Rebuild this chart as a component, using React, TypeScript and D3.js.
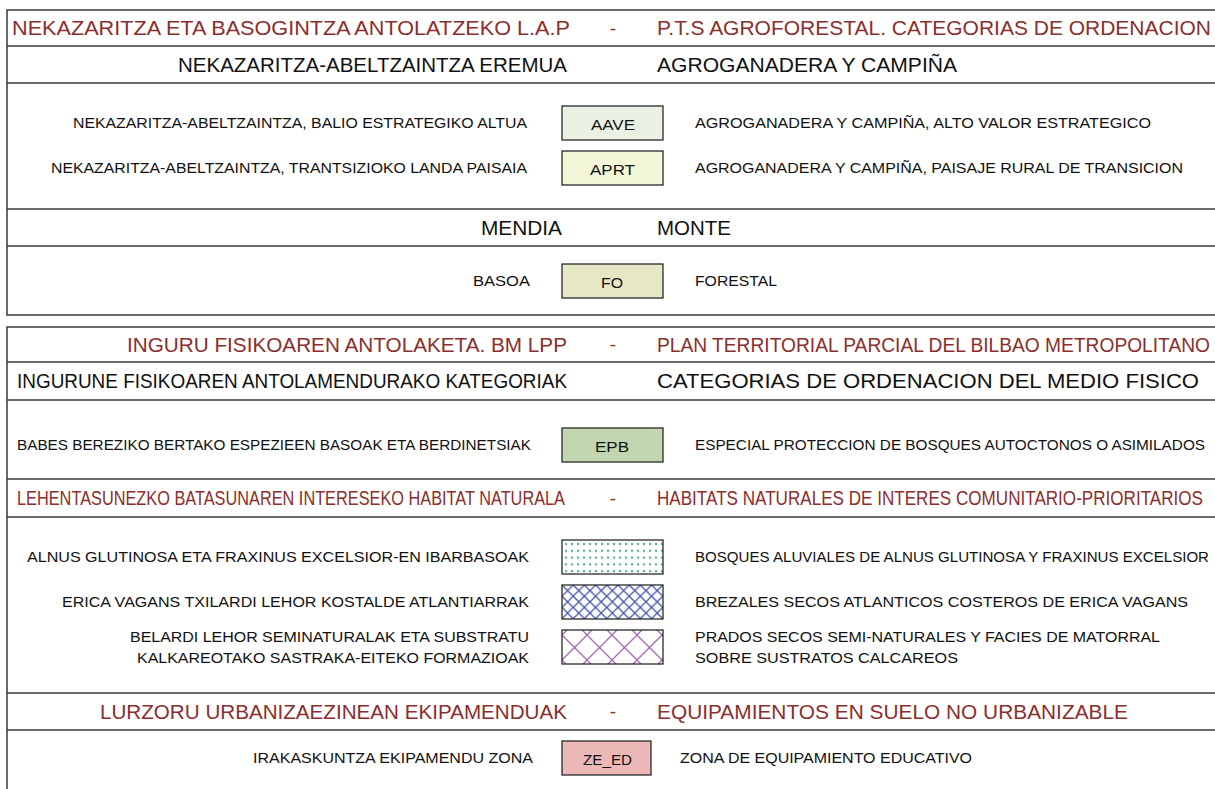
import React from "react";
import * as d3 from "d3";

// legend texts
const titles = [
  ["NEKAZARITZA ETA BASOGINTZA ANTOLATZEKO L.A.P", "P.T.S AGROFORESTAL. CATEGORIAS DE ORDENACION"],
  ["INGURU FISIKOAREN ANTOLAKETA. BM LPP", "PLAN TERRITORIAL PARCIAL DEL BILBAO METROPOLITANO"],
  ["LEHENTASUNEZKO BATASUNAREN INTERESEKO HABITAT NATURALA", "HABITATS NATURALES DE INTERES COMUNITARIO-PRIORITARIOS"],
  ["LURZORU URBANIZAEZINEAN EKIPAMENDUAK", "EQUIPAMIENTOS EN SUELO NO URBANIZABLE"],
];

const subtitles = [
  ["NEKAZARITZA-ABELTZAINTZA EREMUA", "AGROGANADERA Y CAMPIÑA"],
  ["MENDIA", "MONTE"],
  ["INGURUNE FISIKOAREN ANTOLAMENDURAKO KATEGORIAK", "CATEGORIAS DE ORDENACION DEL MEDIO FISICO"],
];

const codes = ["AAVE", "APRT", "FO", "EPB", "ALNUS", "ERICA", "BELARDI", "ZE_ED"];
const codeLabels = ["AAVE", "APRT", "FO", "EPB", "", "", "", "ZE_ED"];

const basqueLabels = [
  ["NEKAZARITZA-ABELTZAINTZA, BALIO ESTRATEGIKO ALTUA"],
  ["NEKAZARITZA-ABELTZAINTZA, TRANTSIZIOKO LANDA PAISAIA"],
  ["BASOA"],
  ["BABES BEREZIKO BERTAKO ESPEZIEEN BASOAK ETA BERDINETSIAK"],
  ["ALNUS GLUTINOSA ETA FRAXINUS EXCELSIOR-EN IBARBASOAK"],
  ["ERICA VAGANS TXILARDI LEHOR KOSTALDE ATLANTIARRAK"],
  ["BELARDI LEHOR SEMINATURALAK ETA SUBSTRATU", "KALKAREOTAKO SASTRAKA-EITEKO FORMAZIOAK"],
  ["IRAKASKUNTZA EKIPAMENDU ZONA"],
];

const spanishLabels = [
  ["AGROGANADERA Y CAMPIÑA, ALTO VALOR ESTRATEGICO"],
  ["AGROGANADERA Y CAMPIÑA, PAISAJE RURAL DE TRANSICION"],
  ["FORESTAL"],
  ["ESPECIAL PROTECCION DE BOSQUES AUTOCTONOS O ASIMILADOS"],
  ["BOSQUES ALUVIALES DE ALNUS GLUTINOSA Y FRAXINUS EXCELSIOR"],
  ["BREZALES SECOS ATLANTICOS COSTEROS DE ERICA VAGANS"],
  ["PRADOS SECOS SEMI-NATURALES Y FACIES DE MATORRAL", "SOBRE SUSTRATOS CALCAREOS"],
  ["ZONA DE EQUIPAMIENTO EDUCATIVO"],
];

const swatchFill = d3
  .scaleOrdinal<string, string>()
  .domain(codes)
  .range(["#e9f1e4", "#f3f6d9", "#e6e7c5", "#c3d6b2", "url(#dots)", "url(#blueHatch)", "url(#purpleHatch)", "#ecb8b8"]);

// ---- layout (pixel extents of each text line in the frame) ----
const FONT = "'Liberation Sans', Arial, Helvetica, sans-serif";
const RED = "#8b2e2e";
const LINE = "#3a3a3a";
const W = 1215;
const H = 789;
const LEFT = 7;

const span: Record<string, [number, number]> = {
  "NEKAZARITZA ETA BASOGINTZA ANTOLATZEKO L.A.P": [12, 570],
  "P.T.S AGROFORESTAL. CATEGORIAS DE ORDENACION": [657, 1211],
  "INGURU FISIKOAREN ANTOLAKETA. BM LPP": [127, 567],
  "PLAN TERRITORIAL PARCIAL DEL BILBAO METROPOLITANO": [657, 1210],
  "LEHENTASUNEZKO BATASUNAREN INTERESEKO HABITAT NATURALA": [17, 565],
  "HABITATS NATURALES DE INTERES COMUNITARIO-PRIORITARIOS": [657, 1203],
  "LURZORU URBANIZAEZINEAN EKIPAMENDUAK": [100, 567],
  "EQUIPAMIENTOS EN SUELO NO URBANIZABLE": [657, 1128],
  "NEKAZARITZA-ABELTZAINTZA EREMUA": [178, 567],
  "AGROGANADERA Y CAMPIÑA": [657, 957],
  MENDIA: [481, 562],
  MONTE: [657, 731],
  "INGURUNE FISIKOAREN ANTOLAMENDURAKO KATEGORIAK": [17, 567],
  "CATEGORIAS DE ORDENACION DEL MEDIO FISICO": [657, 1199],
  "NEKAZARITZA-ABELTZAINTZA, BALIO ESTRATEGIKO ALTUA": [73, 527],
  "NEKAZARITZA-ABELTZAINTZA, TRANTSIZIOKO LANDA PAISAIA": [51, 527],
  BASOA: [473, 530],
  "BABES BEREZIKO BERTAKO ESPEZIEEN BASOAK ETA BERDINETSIAK": [17, 531],
  "ALNUS GLUTINOSA ETA FRAXINUS EXCELSIOR-EN IBARBASOAK": [27, 529],
  "ERICA VAGANS TXILARDI LEHOR KOSTALDE ATLANTIARRAK": [62, 529],
  "BELARDI LEHOR SEMINATURALAK ETA SUBSTRATU": [130, 529],
  "KALKAREOTAKO SASTRAKA-EITEKO FORMAZIOAK": [137, 529],
  "IRAKASKUNTZA EKIPAMENDU ZONA": [253, 533],
  "AGROGANADERA Y CAMPIÑA, ALTO VALOR ESTRATEGICO": [695, 1151],
  "AGROGANADERA Y CAMPIÑA, PAISAJE RURAL DE TRANSICION": [695, 1183],
  FORESTAL: [695, 777],
  "ESPECIAL PROTECCION DE BOSQUES AUTOCTONOS O ASIMILADOS": [695, 1205],
  "BOSQUES ALUVIALES DE ALNUS GLUTINOSA Y FRAXINUS EXCELSIOR": [695, 1209],
  "BREZALES SECOS ATLANTICOS COSTEROS DE ERICA VAGANS": [695, 1188],
  "PRADOS SECOS SEMI-NATURALES Y FACIES DE MATORRAL": [695, 1160],
  "SOBRE SUSTRATOS CALCAREOS": [695, 958],
  "ZONA DE EQUIPAMIENTO EDUCATIVO": [680, 972],
  AAVE: [591, 635],
  APRT: [590, 635],
  FO: [601, 623],
  EPB: [595, 629],
  ZE_ED: [583, 632],
};

function Fit({ t, y, size, fill = "#111" }: { t: string; y: number; size: number; fill?: string }) {
  const [x0, x1] = span[t];
  return (
    <text x={x0} y={y} dy="0.36em" fontSize={size} fill={fill} textLength={x1 - x0} lengthAdjust="spacingAndGlyphs">
      {t}
    </text>
  );
}

type Block =
  | { kind: "title"; i: number; y0: number; y1: number }
  | { kind: "sub"; i: number; y0: number; y1: number }
  | { kind: "items"; ids: string[]; y0: number; y1: number; top: number; narrow?: boolean };

// row blocks of the two framed tables
const blocks: Block[] = [
  { kind: "title", i: 0, y0: 10, y1: 46 },
  { kind: "sub", i: 0, y0: 46, y1: 83 },
  { kind: "items", ids: ["AAVE", "APRT"], y0: 83, y1: 209, top: 106 },
  { kind: "sub", i: 1, y0: 209, y1: 246 },
  { kind: "items", ids: ["FO"], y0: 246, y1: 315, top: 264 },
  { kind: "title", i: 1, y0: 327, y1: 362 },
  { kind: "sub", i: 2, y0: 362, y1: 400 },
  { kind: "items", ids: ["EPB"], y0: 400, y1: 479, top: 428 },
  { kind: "title", i: 2, y0: 479, y1: 517 },
  { kind: "items", ids: ["ALNUS", "ERICA", "BELARDI"], y0: 517, y1: 693, top: 540 },
  { kind: "title", i: 3, y0: 693, y1: 730 },
  { kind: "items", ids: ["ZE_ED"], y0: 730, y1: 800, top: 741, narrow: true },
];

const boxes = [
  [10, 315],
  [327, 820],
];

function Items({ b }: { b: Extract<Block, { kind: "items" }> }) {
  const swH = 34;
  const step = 45;
  const y = d3
    .scaleLinear()
    .domain([0, 1])
    .range([b.top, b.top + step]);
  const swX = 562;
  const swW = b.narrow ? 89 : 101;
  return (
    <g>
      {b.ids.map((id, k) => {
        const idx = codes.indexOf(id);
        const cy = y(k) + swH / 2;
        const eu = basqueLabels[idx];
        const es = spanishLabels[idx];
        const lh = 21;
        const off = ((eu.length - 1) * lh) / 2;
        return (
          <g key={id}>
            <rect x={swX} y={y(k)} width={swW} height={swH} fill={swatchFill(id)} stroke="#2a2a2a" strokeWidth={1.3} />
            {codeLabels[idx] && <Fit t={codeLabels[idx]} y={cy + 2} size={14} />}
            {eu.map((t, j) => (
              <Fit key={"eu" + j} t={t} y={cy - off + j * lh} size={14.5} />
            ))}
            {es.map((t, j) => (
              <Fit key={"es" + j} t={t} y={cy - off + j * lh} size={14.5} />
            ))}
          </g>
        );
      })}
    </g>
  );
}

export default function App() {
  return (
    <svg
      width={W}
      height={H}
      style={{ position: "absolute", left: 0, top: 0, background: "#fff" }}
      fontFamily={FONT}
    >
      <defs>
        <pattern id="dots" width={6} height={6.8} patternUnits="userSpaceOnUse" x={564} y={542}>
          <rect x={1} y={1} width={2} height={2} fill="#48b286" />
        </pattern>
        <pattern id="blueHatch" width={11.2} height={11.2} patternUnits="userSpaceOnUse" x={562} y={585}>
          <path d="M-1,-1 L12.2,12.2 M-1,12.2 L12.2,-1" stroke="#4352ad" strokeWidth={1.3} />
        </pattern>
        <pattern id="purpleHatch" width={25} height={25} patternUnits="userSpaceOnUse" x={562} y={635}>
          <path d="M-1,-1 L26,26 M-1,26 L26,-1" stroke="#a564b8" strokeWidth={1.3} />
        </pattern>
      </defs>
      <rect width={W} height={H} fill="#fff" />
      {blocks.map((b, n) => {
        const cy = (b.y0 + b.y1) / 2;
        if (b.kind === "title") {
          const [eu, es] = titles[b.i];
          return (
            <g key={n}>
              <Fit t={eu} y={cy} size={19.5} fill={RED} />
              <text x={613} y={cy} dy="0.36em" textAnchor="middle" fontSize={19} fill={RED}>-</text>
              <Fit t={es} y={cy} size={19.5} fill={RED} />
            </g>
          );
        }
        if (b.kind === "sub") {
          const [eu, es] = subtitles[b.i];
          return (
            <g key={n}>
              <Fit t={eu} y={cy} size={19.5} />
              <Fit t={es} y={cy} size={19.5} />
            </g>
          );
        }
        return <Items key={n} b={b} />;
      })}
      {/* table frames and row separators */}
      {boxes.map(([t, bt], n) => (
        <rect key={n} x={LEFT} y={t} width={W + 20} height={bt - t} fill="none" stroke={LINE} strokeWidth={1.5} />
      ))}
      {blocks
        .filter((b, n) => n > 0 && b.y0 !== 327)
        .map((b, n) => (
          <line key={n} x1={LEFT} x2={W} y1={b.y0} y2={b.y0} stroke={LINE} strokeWidth={1.5} />
        ))}
    </svg>
  );
}
